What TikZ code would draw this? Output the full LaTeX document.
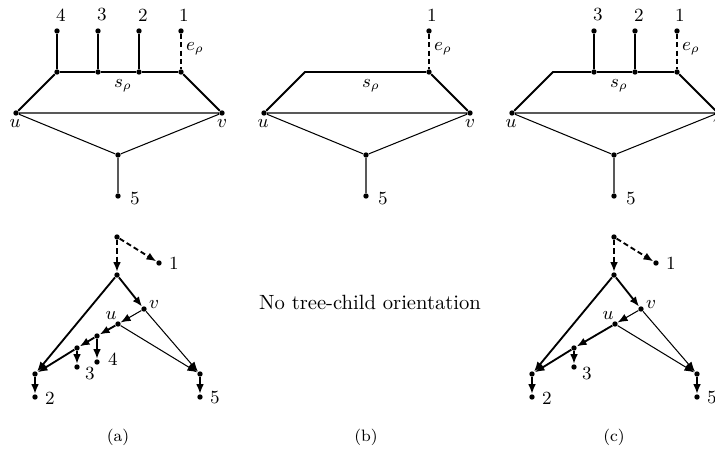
\documentclass[tikz,border=0pt]{standalone}
\usepackage{amsmath}
\usetikzlibrary{positioning, arrows.meta}

\begin{document}
\begin{tikzpicture}[x=0.485pt, y=-0.485pt,
    vtx/.style={circle, fill=black, inner sep=0pt, minimum size=2.6pt},
    lbl/.style={font=\small, inner sep=1pt},
    subcap/.style={font=\footnotesize, inner sep=1pt},
    heavy/.style={line width=0.9pt},
    light/.style={line width=0.5pt},
    dsh/.style={dash pattern=on 2.5pt off 1.5pt},
    arr/.style={-{Latex[length=4.8pt,width=3.8pt]}}]
  \useasboundingbox (0,0) rectangle (715,454);

  % unrooted networks, the part that (a), (b) and (c) share
  \foreach \p/\dx in {a/0, b/248, c/496} {
    \begin{scope}[shift={(\dx,0)}]
      \node[vtx] (\p-u) at (16,113) {};
      \node[vtx] (\p-v) at (222,113) {};
      \node[vtx] (\p-w) at (118,155) {};
      \node[vtx] (\p-5) at (118,196) {};
      \node[vtx] (\p-1) at (181,31) {};
      \node[vtx] (\p-s1) at (181,72) {};
      \node[lbl] (\p-ul) at (15,123) {$u$};
      \node[lbl] (\p-vl) at (222,123) {$v$};
      \node[lbl] (\p-1l) at (184,15) {1};
      \node[lbl] (\p-5l) at (135,199) {5};
      \node[lbl] (\p-sl) at (123,86) {$s_\rho$};
      \node[lbl] (\p-el) at (195,49) {$e_\rho$};
      \draw[heavy, dsh] (\p-1) -- (\p-s1);
      \draw[heavy] (\p-s1) -- (\p-v);
      \draw[light] (\p-u) -- (\p-v) (\p-u) -- (\p-w) -- (\p-v) (\p-w) -- (\p-5);
    \end{scope}
  }

  % (a) leaves 4, 3, 2 on the spine
  \node[vtx] (a-4) at (57,31) {};
  \node[vtx] (a-3) at (98,31) {};
  \node[vtx] (a-2) at (139,31) {};
  \node[vtx] (a-s4) at (57,72) {};
  \node[vtx] (a-s3) at (98,72) {};
  \node[vtx] (a-s2) at (139,72) {};
  \node[lbl] (a-4l) at (61,15) {4};
  \node[lbl] (a-3l) at (102,15) {3};
  \node[lbl] (a-2l) at (143,15) {2};
  \draw[heavy] (a-u) -- (a-s4) -- (a-s3) -- (a-s2) -- (a-s1);
  \draw[heavy] (a-4) -- (a-s4) (a-3) -- (a-s3) (a-2) -- (a-s2);

  % (b) bare spine
  \coordinate (b-s0) at (305,72);
  \draw[heavy] (b-u) -- (b-s0) -- (b-s1);

  % (c) leaves 3, 2 on the spine
  \coordinate (c-s0) at (553,72);
  \node[vtx] (c-3) at (594,31) {};
  \node[vtx] (c-2) at (635,31) {};
  \node[vtx] (c-s3) at (594,72) {};
  \node[vtx] (c-s2) at (635,72) {};
  \node[lbl] (c-3l) at (598,15) {3};
  \node[lbl] (c-2l) at (639,15) {2};
  \draw[heavy] (c-u) -- (c-s0) -- (c-s3) -- (c-s2) -- (c-s1);
  \draw[heavy] (c-3) -- (c-s3) (c-2) -- (c-s2);

  % orientations of (a) and (c)
  \foreach \p/\dx in {a/0, c/497} {
    \begin{scope}[shift={(\dx,0)}]
      \node[vtx] (\p-ot) at (117,237) {};
      \node[vtx] (\p-o1) at (159,263) {};
      \node[vtx] (\p-or) at (117,275) {};
      \node[vtx] (\p-ov) at (144,309) {};
      \node[vtx] (\p-ou) at (118,324) {};
      \node[vtx] (\p-oa3) at (77,348) {};
      \node[vtx] (\p-op2) at (35,374) {};
      \node[vtx] (\p-op5) at (200,374) {};
      \node[vtx] (\p-o3) at (77,367) {};
      \node[vtx] (\p-o2) at (35,397) {};
      \node[vtx] (\p-o5) at (200,397) {};
      \node[lbl] (\p-o1l) at (174,263) {1};
      \node[lbl] (\p-ovl) at (154,304) {$v$};
      \node[lbl] (\p-oul) at (111,315) {$u$};
      \node[lbl] (\p-o3l) at (90,374) {3};
      \node[lbl] (\p-o2l) at (50,398) {2};
      \node[lbl] (\p-o5l) at (215,398) {5};
      \draw[heavy, dsh, arr] (\p-ot) -- (\p-o1);
      \draw[heavy, dsh, arr] (\p-ot) -- (\p-or);
      \draw[heavy, arr] (\p-or) -- (\p-op2);
      \draw[heavy, arr] (\p-or) -- (\p-ov);
      \draw[light, arr] (\p-ov) -- (\p-ou);
      \draw[light, arr] (\p-ov) -- (\p-op5);
      \draw[light, arr] (\p-ou) -- (\p-op5);
      \draw[heavy, arr] (\p-oa3) -- (\p-op2);
      \draw[heavy, arr] (\p-oa3) -- (\p-o3);
      \draw[heavy, arr] (\p-op2) -- (\p-o2);
      \draw[heavy, arr] (\p-op5) -- (\p-o5);
    \end{scope}
  }

  % (a) has leaf 4 between u and the parent of 3
  \node[vtx] (a-oa4) at (97,336) {};
  \node[vtx] (a-o4) at (97,362) {};
  \node[lbl] (a-o4l) at (113,359) {4};
  \draw[heavy, arr] (a-ou) -- (a-oa4);
  \draw[heavy, arr] (a-oa4) -- (a-oa3);
  \draw[heavy, arr] (a-oa4) -- (a-o4);

  % (c) u goes straight to the parent of 3
  \draw[heavy, arr] (c-ou) -- (c-oa3);

  \node (noOrient) at (370,302) {No tree-child orientation};

  \node[subcap] (capA) at (118,437) {(a)};
  \node[subcap] (capB) at (366,437) {(b)};
  \node[subcap] (capC) at (614,437) {(c)};
\end{tikzpicture}
\end{document}
